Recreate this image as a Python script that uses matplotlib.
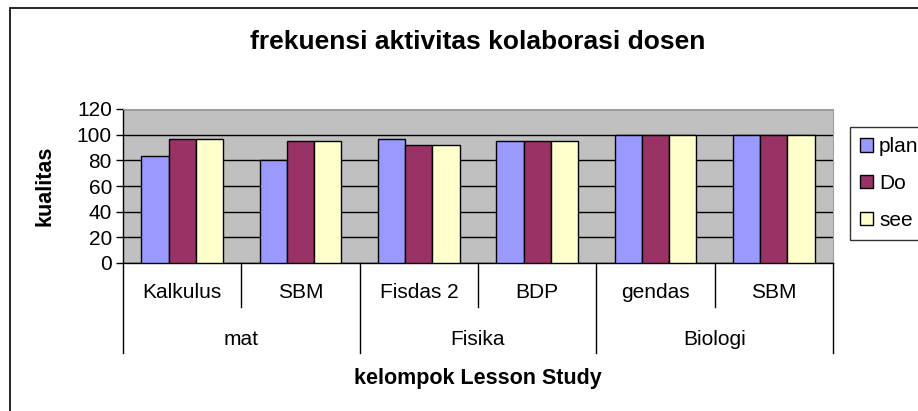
import numpy as np
import matplotlib
matplotlib.use('Agg')
import matplotlib.pyplot as plt
from matplotlib.patches import Rectangle
from matplotlib.lines import Line2D

plt.rcParams['font.family'] = ['Liberation Sans', 'DejaVu Sans']

subjects = ['Kalkulus', 'SBM', 'Fisdas 2', 'BDP', 'gendas', 'SBM']
groups = ['mat', 'Fisika', 'Biologi']
series = ['plan', 'Do', 'see']
plan = [83, 80, 97, 95, 100, 100]
do = [97, 95, 92, 95, 100, 100]
see = [97, 95, 92, 95, 100, 100]
colors = ['#9999FF', '#993366', '#FFFFCC']

W, H = 918, 411
fig = plt.figure(figsize=(W / 100, H / 100), dpi=100)

# outer chart frame (runs off the right/bottom edge like the original)
fig.patches.append(Rectangle((10 / W, -0.1), 1.0, 1 - 8 / H + 0.1, transform=fig.transFigure,
                             fill=False, edgecolor='black', linewidth=1.2))

left, right, top, bottom = 123, 833, 109, 263
ax = fig.add_axes([left / W, 1 - bottom / H, (right - left) / W, (bottom - top) / H])
ax.set_facecolor('#C0C0C0')

x = np.arange(len(subjects))
bw = 0.23
for i, (vals, name) in enumerate(zip([plan, do, see], series)):
    ax.bar(x + (i - 1) * bw, vals, bw, color=colors[i], edgecolor='black', linewidth=1, label=name, zorder=3)

ax.set_xlim(-0.5, len(subjects) - 0.5)
ax.set_ylim(0, 120)
ax.set_yticks(range(0, 121, 20))
ax.yaxis.grid(True, color='black', linewidth=1)
ax.set_axisbelow(True)
ax.tick_params(axis='y', labelsize=15, length=5, direction='out', width=1, pad=3)
ax.set_xticks([])
for s in ['top', 'right']:
    ax.spines[s].set_color('#A0A0A0')
ax.spines['left'].set_linewidth(1)
ax.spines['bottom'].set_linewidth(1)

# multi level category axis
trans = ax.get_xaxis_transform()
ph = (bottom - top)  # axes height in px
def yax(py):
    return (bottom - py) / ph

for i, name in enumerate(subjects):
    ax.text(i, yax(293), name, transform=trans, ha='center', va='center', fontsize=15)
for b in range(len(subjects) + 1):
    xb = b - 0.5
    low = 353 if b % 2 == 0 else 307
    ax.add_line(Line2D([xb, xb], [0, yax(low)], transform=trans, color='black',
                       linewidth=1, clip_on=False))
for g, name in enumerate(groups):
    ax.text(2 * g + 0.5, yax(339), name, transform=trans, ha='center', va='center', fontsize=15)

fig.text((left + right) / 2 / W, 1 - 378 / H, 'kelompok Lesson Study', ha='center', va='center',
         fontsize=15.5, fontweight='bold')
fig.text(45 / W, 1 - 186 / H, 'kualitas', ha='center', va='center', rotation=90,
         fontsize=15.5, fontweight='bold')
fig.text((left + right) / 2 / W, 1 - 42 / H, 'frekuensi aktivitas kolaborasi dosen', ha='center',
         va='center', fontsize=19, fontweight='bold')

leg = ax.legend(loc='upper left', bbox_to_anchor=(850 / W, 1 - 127 / H), bbox_transform=fig.transFigure,
                fontsize=15, frameon=True, fancybox=False, edgecolor='black', handlelength=0.6,
                handleheight=0.6, handletextpad=0.3, labelspacing=0.85, borderpad=0.5, borderaxespad=0)
leg.get_frame().set_linewidth(1)

fig.savefig('out.png', dpi=100)
